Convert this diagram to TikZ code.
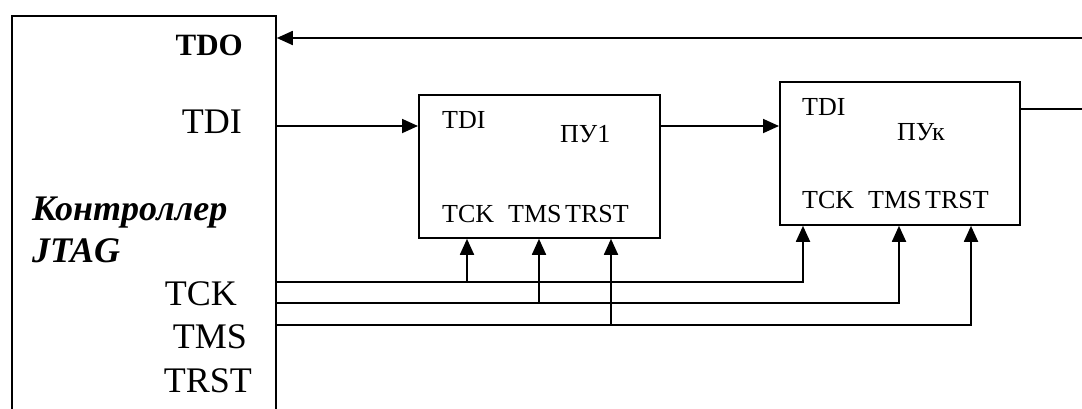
\documentclass[tikz,border=0pt]{standalone}
\usepackage{fontspec}
\setmainfont{Liberation Serif}
\usetikzlibrary{arrows.meta,calc}
\begin{document}
\begin{tikzpicture}[x=1pt,y=-1pt,
  wire/.style={line width=1.8pt},
  arr/.style={wire,-{Triangle[length=16pt,width=14pt]}},
  blk/.style={draw,line width=1.8pt,anchor=north west,inner sep=0},
  lbl/.style={inner sep=0,font=\fontsize{26}{30}\selectfont},
  big/.style={inner sep=0,font=\fontsize{36}{40}\selectfont}]
\path[use as bounding box] (0,0) rectangle (1082,408);
\clip (0,0) rectangle (1082,408);
% blocks
\node[blk,minimum width=264pt,minimum height=430pt] (ctrl) at (11,15) {};
\node[blk,minimum width=241pt,minimum height=143pt] (pu1) at (418,94) {};
\node[blk,minimum width=240pt,minimum height=143pt] (puk) at (779,81) {};
% controller labels
\node[inner sep=0,font=\bfseries\fontsize{31}{35}\selectfont,anchor=base east] (tdo) at (243,55) {TDO};
\node[big,anchor=base east] (ctdi) at (242,133) {TDI};
\node[big,anchor=base east] (ctck) at (237,305) {TCK};
\node[big,anchor=base east] (ctms) at (247,348) {TMS};
\node[big,anchor=base east] (ctrst) at (252,392) {TRST};
\node[inner sep=0,font=\bfseries\itshape\fontsize{36}{40}\selectfont,anchor=base west] (cname1) at (32,220) {Контроллер};
\node[inner sep=0,font=\bfseries\itshape\fontsize{36}{40}\selectfont,anchor=base west] (cname2) at (32,262) {JTAG};
% PU1 labels
\node[lbl,anchor=base west] (p1tdi) at (442,128) {TDI};
\node[lbl,anchor=base west] (p1name) at (560,142) {ПУ1};
\node[lbl,anchor=base west] (p1tck) at (442,222) {TCK};
\node[lbl,anchor=base west] (p1tms) at (508,222) {TMS};
\node[lbl,anchor=base west] (p1trst) at (565,222) {TRST};
% PUk labels
\node[lbl,anchor=base west] (pktdi) at (802,115) {TDI};
\node[lbl,anchor=base west] (pkname) at (897,140) {ПУк};
\node[lbl,anchor=base west] (pktck) at (802,208) {TCK};
\node[lbl,anchor=base west] (pktms) at (868,208) {TMS};
\node[lbl,anchor=base west] (pktrst) at (925,208) {TRST};
% ports
\coordinate (tdoR) at (1082,38);
\coordinate (outR) at (1082,109);
\coordinate (pu1in) at ($(pu1.north west)+(0,32)$);
\coordinate (pukin) at ($(puk.north west)+(0,45)$);
\coordinate (pukout) at ($(puk.north east)+(0,28)$);
\coordinate (tckL) at (ctrl.east |- 0,282);
\coordinate (tmsL) at (ctrl.east |- 0,303);
\coordinate (trstL) at (ctrl.east |- 0,325);
\coordinate (p1a) at ($(pu1.south west)+(49,0)$);
\coordinate (p1b) at ($(pu1.south west)+(121,0)$);
\coordinate (p1c) at ($(pu1.south west)+(193,0)$);
\coordinate (pka) at ($(puk.south west)+(24,0)$);
\coordinate (pkb) at ($(puk.south west)+(120,0)$);
\coordinate (pkc) at ($(puk.south west)+(192,0)$);
% connectors
\draw[arr] (tdoR) -- (tdoR -| ctrl.east);
\draw[arr] (pu1in -| ctrl.east) -- (pu1in);
\draw[arr] (pu1.east |- pukin) -- (pukin);
\draw[wire] (pukout) -- (pukout -| outR);
\draw[arr] (tckL) -| (pka);
\draw[arr] (tmsL) -| (pkb);
\draw[arr] (trstL) -| (pkc);
\draw[arr] (tckL -| p1a) -- (p1a);
\draw[arr] (tmsL -| p1b) -- (p1b);
\draw[arr] (trstL -| p1c) -- (p1c);
\end{tikzpicture}
\end{document}
